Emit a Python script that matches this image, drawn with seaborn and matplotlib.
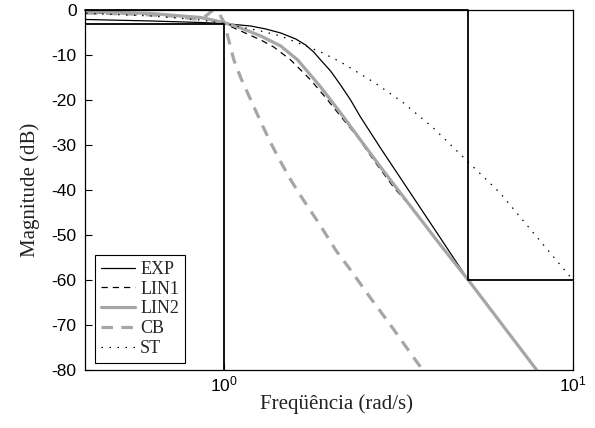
import numpy as np
import pandas as pd
import matplotlib
matplotlib.use("Agg")
import matplotlib.pyplot as plt
import seaborn as sns

# Frequency responses (rad/s, dB)
w_exp = [0.403, 0.619, 0.86, 1.0, 1.194, 1.318, 1.455, 1.606, 1.715, 1.808, 1.893, 2.021, 2.159,
         2.306, 2.462, 2.809, 3.204, 3.655, 4.169, 5.012, 6.185, 7.89, 8.1]
db_exp = [-2.11, -2.44, -2.78, -3.0, -3.56, -4.22, -5.11, -6.44, -7.78, -9.33, -11.11, -13.56, -16.67,
          -20.0, -23.78, -30.67, -37.33, -44.0, -50.67, -60.0, -69.33, -80.0, -81.0]

w_lin1 = [0.403, 0.619, 0.86, 1.0, 1.118, 1.276, 1.389, 1.554, 1.773, 1.982, 2.203, 2.415, 2.683,
          3.06, 3.491, 4.169, 5.012, 6.185, 8.05]
db_lin1 = [-0.56, -1.0, -1.78, -3.0, -4.67, -6.67, -8.22, -11.11, -15.56, -20.0, -24.44, -28.22, -33.33,
           -39.33, -44.44, -52.2, -60.0, -69.33, -80.9]

w_lin2 = [0.403, 0.619, 0.86, 1.0, 1.118, 1.276, 1.455, 1.627, 1.893, 2.159, 2.462, 2.809, 3.204,
          3.491, 4.169, 5.012, 6.185, 7.94]
db_lin2 = [-0.33, -0.78, -1.67, -2.78, -4.0, -5.78, -8.0, -11.11, -17.11, -22.89, -28.89, -34.89, -40.67,
           -44.44, -52.2, -60.0, -69.33, -80.4]

w_cb = [0.403, 0.542, 0.706, 0.832, 0.888, 0.93, 0.968, 1.0, 1.027, 1.068, 1.118, 1.194, 1.276, 1.362,
        1.455, 1.554, 1.66, 1.773, 1.893, 2.089, 2.306, 2.63, 3.0, 3.537, 3.655]
db_cb = [-0.67, -0.89, -1.33, -2.0, -1.33, 0.0, -0.67, -2.67, -6.0, -11.11, -15.1, -20.0, -24.9, -29.56,
         -33.78, -37.78, -41.33, -44.67, -48.0, -53.33, -57.78, -64.0, -70.0, -77.78, -79.3]

w_st = [0.403, 0.619, 0.86, 1.0, 1.118, 1.276, 1.455, 1.66, 1.893, 2.159, 2.683, 3.246, 3.981,
        5.012, 6.185, 7.79, 10.0]
db_st = [-0.73, -1.33, -2.22, -3.0, -3.78, -4.67, -5.78, -7.56, -9.33, -11.56, -16.0, -20.44, -26.22,
         -33.78, -40.67, -50.0, -60.0]

# Specification mask: pass band (edge 1 rad/s, -3 dB) and stop band (edge 5 rad/s, -60 dB)
pass_w = [0.4, 1.0, 1.0]
pass_db = [-3.0, -3.0, -80.0]
stop_w = [0.4, 5.0, 5.0, 10.0]
stop_db = [0.0, 0.0, -60.0, -60.0]

x_ticks = [1, 10]
x_tick_labels = [r"$10^{0}$", r"$10^{1}$"]
y_ticks = [0, -10, -20, -30, -40, -50, -60, -70, -80]

sns.set_theme(style="white")
plt.rcParams["font.family"] = ["Liberation Sans", "DejaVu Sans"]
plt.rcParams["mathtext.fontset"] = "custom"
plt.rcParams["mathtext.rm"] = "Liberation Sans"
plt.rcParams["mathtext.it"] = "Liberation Sans"
plt.rcParams["mathtext.default"] = "regular"

fig = plt.figure(figsize=(5.95, 4.28), dpi=100)
ax = fig.add_axes([85 / 595, 1 - 370 / 428, 488 / 595, 360 / 428])

gray = "#a6a6a6"
series = [
    ("EXP", w_exp, db_exp, dict(color="black", lw=0.9), None),
    ("LIN1", w_lin1, db_lin1, dict(color="black", lw=0.9), (5, 4)),
    ("LIN2", w_lin2, db_lin2, dict(color=gray, lw=2.3), None),
    ("CB", w_cb, db_cb, dict(color=gray, lw=2.3), (3.6, 2.6)),
    ("ST", w_st, db_st, dict(color="black", lw=0.9), (1.2, 5.2)),
]
for name, w, db, style, dashes in series:
    df = pd.DataFrame({"w": w, "db": db})
    sns.lineplot(data=df, x="w", y="db", ax=ax, estimator=None, sort=False, label=name, **style)
    if dashes is not None:
        ax.lines[-1].set_dashes(dashes)
    ax.lines[-1].set_solid_joinstyle("round")

ax.plot(pass_w, pass_db, color="black", lw=1.3)
ax.plot(stop_w, stop_db, color="black", lw=1.3, clip_on=False)

ax.set_xscale("log")
ax.set_xlim(0.4, 10)
ax.set_ylim(-80, 0)
ax.set_xticks(x_ticks)
ax.set_xticklabels(x_tick_labels)
ax.xaxis.set_minor_locator(matplotlib.ticker.NullLocator())
ax.set_yticks(y_ticks)
ax.set_yticklabels([str(v) for v in y_ticks])
ax.tick_params(axis="both", direction="in", length=5, width=0.8, labelsize=12.5,
               colors="black", left=True, bottom=True)
ax.tick_params(axis="y", pad=6)
ax.tick_params(axis="x", pad=3)

for sp in ax.spines.values():
    sp.set_color("black")
    sp.set_linewidth(0.9)

ax.set_xlabel("Freqüência (rad/s)", fontfamily="Liberation Serif", fontsize=15, color="#222222",
              labelpad=3)
ax.xaxis.set_label_coords(0.516, -0.068, transform=ax.transAxes)
ax.xaxis.label.set_va("top")
ax.set_ylabel("Magnitude (dB)", fontfamily="Liberation Serif", fontsize=15, color="#222222",
              labelpad=8)

leg = ax.legend(loc="lower left", bbox_to_anchor=(0.0205, 0.019),
                prop={"family": "Liberation Serif", "size": 13},
                frameon=True, fancybox=False, framealpha=1, edgecolor="black",
                handlelength=1.85, handletextpad=0.3, labelspacing=0.15, borderpad=0.35,
                borderaxespad=0)
leg.get_frame().set_linewidth(0.8)

fig.savefig("out.png", dpi=100)
